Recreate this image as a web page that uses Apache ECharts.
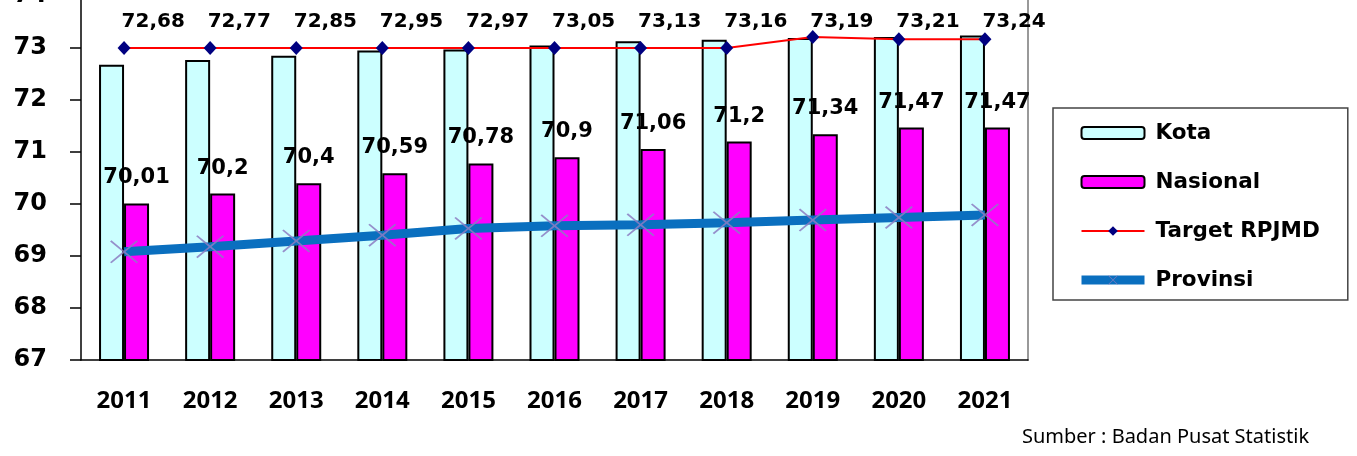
<!DOCTYPE html>
<html>
<head>
<meta charset="utf-8">
<script src="https://cdn.jsdelivr.net/npm/echarts@6/dist/echarts.min.js"></script>
<style>
  html, body { margin: 0; padding: 0; background: #fff; }
  #chart { width: 1357px; height: 456px; }
</style>
</head>
<body>
<div id="chart"></div>
<script>
var years = ["2011", "2012", "2013", "2014", "2015", "2016", "2017", "2018", "2019", "2020", "2021"];
var kota = [72.68, 72.77, 72.85, 72.95, 72.97, 73.05, 73.13, 73.16, 73.19, 73.21, 73.24];
var nasional = [70.01, 70.2, 70.4, 70.59, 70.78, 70.9, 71.06, 71.2, 71.34, 71.47, 71.47];
var target = [73, 73, 73, 73, 73, 73, 73, 73, 73.21, 73.17, 73.17];
var provinsi = [69.08, 69.18, 69.29, 69.4, 69.53, 69.58, 69.6, 69.64, 69.69, 69.74, 69.79];

var chart = echarts.init(document.getElementById("chart"));

// angka pakai koma desimal
function koma(p) {
  return String(p.value).replace(".", ",");
}

// simbol silang untuk garis provinsi
var silang = "path://M0,1 L1,0 L10,9 L19,0 L20,1 L11,10 L20,19 L19,20 L10,11 L1,20 L0,19 L9,10 Z";

var option = {
  backgroundColor: "#fff",
  animation: false,
  grid: { left: 81, right: 329, top: -4, bottom: 96, outerBoundsMode: "none" },
  legend: {
    orient: "vertical",
    left: 1053,
    top: 108,
    itemWidth: 63,
    itemHeight: 12,
    itemGap: 25,
    padding: [13, 28, 8, 24],
    backgroundColor: "#fff",
    borderColor: "#444",
    borderWidth: 1.5,
    borderRadius: 0,
    textStyle: {
      fontFamily: "DejaVu Sans",
      fontWeight: "bold",
      fontSize: 21.5,
      lineHeight: 24,
      color: "#000",
      padding: [0, 0, 0, 6]
    },
    data: [
      "Kota",
      "Nasional",
      { name: "Target RPJMD", lineStyle: { width: 2 } },
      { name: "Provinsi", lineStyle: { width: 9 } }
    ]
  },
  xAxis: [
    {
      type: "category",
      position: "bottom",
      data: years,
      axisLine: { lineStyle: { color: "#000", width: 1.5 } },
      axisTick: { length: 11, lineStyle: { color: "#000", width: 1.5 } },
      axisLabel: {
        margin: 29,
        fontFamily: "Noto Sans",
        fontWeight: "bold",
        fontSize: 24,
        color: "#000"
      }
    },
    {
      type: "category",
      position: "bottom",
      data: years,
      axisLine: { show: false },
      axisTick: { inside: true, length: 9, lineStyle: { color: "#000", width: 1.5 } },
      axisLabel: { show: false }
    }
  ],
  yAxis: [
    {
      type: "value",
      min: 67,
      max: 74,
      interval: 1,
      splitLine: { show: false },
      axisLine: { show: true, lineStyle: { color: "#000", width: 1.5 } },
      axisTick: { show: true, length: 11, lineStyle: { color: "#000", width: 1.5 } },
      axisLabel: {
        margin: 34,
        fontFamily: "DejaVu Sans",
        fontWeight: "bold",
        fontSize: 24,
        color: "#000"
      }
    },
    {
      // garis abu-abu di kanan plot
      type: "value",
      position: "right",
      min: 67,
      max: 74,
      interval: 1,
      splitLine: { show: false },
      axisLine: { show: true, lineStyle: { color: "#999", width: 2 } },
      axisTick: { show: false },
      axisLabel: { show: false }
    }
  ],
  graphic: [
    {
      type: "text",
      left: 1022,
      top: 427,
      style: {
        text: "Sumber : Badan Pusat Statistik",
        fontFamily: "Noto Sans",
        fontSize: 20,
        fill: "#000"
      }
    }
  ],
  series: [
    {
      name: "Kota",
      type: "bar",
      data: kota,
      barWidth: 25,
      barGap: "0%",
      itemStyle: { color: "#ccffff", borderColor: "#000", borderWidth: 2 },
      label: {
        show: true,
        position: "top",
        offset: [10, 0],
        formatter: koma,
        fontFamily: "DejaVu Sans",
        fontWeight: "bold",
        fontSize: 20,
        color: "#000"
      },
      // label kota dijejer di atas garis target
      labelLayout: function () {
        return { y: 22, verticalAlign: "middle" };
      }
    },
    {
      name: "Nasional",
      type: "bar",
      data: nasional,
      barWidth: 25,
      barGap: "0%",
      itemStyle: { color: "#ff00ff", borderColor: "#000", borderWidth: 2 },
      label: {
        show: true,
        position: "top",
        distance: 15,
        formatter: koma,
        fontFamily: "DejaVu Sans",
        fontWeight: "bold",
        fontSize: 21,
        color: "#000"
      }
    },
    {
      name: "Target RPJMD",
      type: "line",
      data: target,
      symbol: "diamond",
      symbolSize: [13, 14],
      lineStyle: { color: "#ff0000", width: 2 },
      itemStyle: { color: "#000080" },
      z: 3
    },
    {
      name: "Provinsi",
      type: "line",
      data: provinsi,
      symbol: silang,
      symbolSize: [28, 23],
      lineStyle: { color: "#0a6fbf", width: 9 },
      itemStyle: { color: "#8c7cc2", opacity: 0.85 },
      z: 4
    }
  ]
};

chart.setOption(option);
</script>
</body>
</html>
